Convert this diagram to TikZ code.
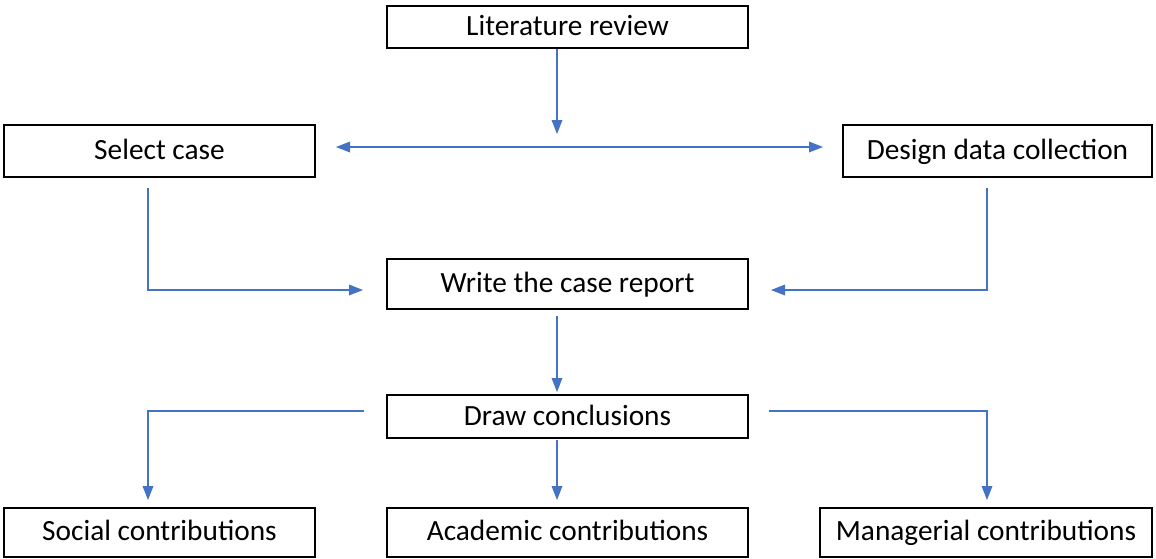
\documentclass[tikz,border=0pt]{standalone}
\usepackage{fontspec}
\setmainfont{Carlito}
\usetikzlibrary{arrows.meta}
\definecolor{flowblue}{HTML}{4472C4}
\begin{document}
\begin{tikzpicture}[x=0.75pt,y=-0.75pt,
  stepbox/.style={draw=black,line width=1.5pt,fill=white,inner sep=0pt,
    text height=14pt,text depth=1pt,font=\fontsize{22}{24}\selectfont},
  flow/.style={draw=flowblue,line width=0.9pt,-{Triangle[length=10.5pt,width=8pt]}},
  flowboth/.style={draw=flowblue,line width=0.9pt,{Triangle[length=10.5pt,width=8pt]}-{Triangle[length=10.5pt,width=8pt]}}]
\useasboundingbox (0,0) rectangle (1156,558);
% boxes (corners in pixel units)
\node[stepbox,minimum width=361*0.75pt,minimum height=42*0.75pt] (lit) at (567.5,27) {Literature review};
\node[stepbox,minimum width=311*0.75pt,minimum height=52*0.75pt] (sel) at (159.5,150.5) {Select case};
\node[stepbox,minimum width=309*0.75pt,minimum height=52*0.75pt] (des) at (997.5,150.5) {Design data collection};
\node[stepbox,minimum width=361*0.75pt,minimum height=50*0.75pt] (wri) at (567.5,284) {Write the case report};
\node[stepbox,minimum width=361*0.75pt,minimum height=43*0.75pt] (con) at (567.5,416.5) {Draw conclusions};
\node[stepbox,minimum width=311*0.75pt,minimum height=49*0.75pt] (soc) at (159.5,532) {Social contributions};
\node[stepbox,minimum width=361*0.75pt,minimum height=49*0.75pt] (aca) at (567.5,532) {Academic contributions};
\node[stepbox,minimum width=332*0.75pt,minimum height=49*0.75pt] (man) at (986,532) {Managerial contributions};
% connector end points
\coordinate (litend) at (557,134);
\coordinate (dl) at (336,147);
\coordinate (dr) at (823,147);
\coordinate (sdown) at (148,188);
\coordinate (ddown) at (987,188);
\coordinate (wl) at (363,290);
\coordinate (wr) at (771,290);
\coordinate (wbot) at (557,316);
\coordinate (ctop) at (557,392);
\coordinate (cl) at (364,411);
\coordinate (cr) at (769,411);
\coordinate (cbot) at (557,440);
\coordinate (tsoc) at (148,500);
\coordinate (taca) at (557,500);
\coordinate (tman) at (987,500);
% connectors
\draw[flow] (lit.south -| litend) -- (litend);
\draw[flowboth] (dl) -- (dr);
\draw[flow] (sdown) |- (wl);
\draw[flow] (ddown) |- (wr);
\draw[flow] (wbot) -- (ctop);
\draw[flow] (cl) -| (tsoc);
\draw[flow] (cbot) -- (taca);
\draw[flow] (cr) -| (tman);
\end{tikzpicture}
\end{document}
